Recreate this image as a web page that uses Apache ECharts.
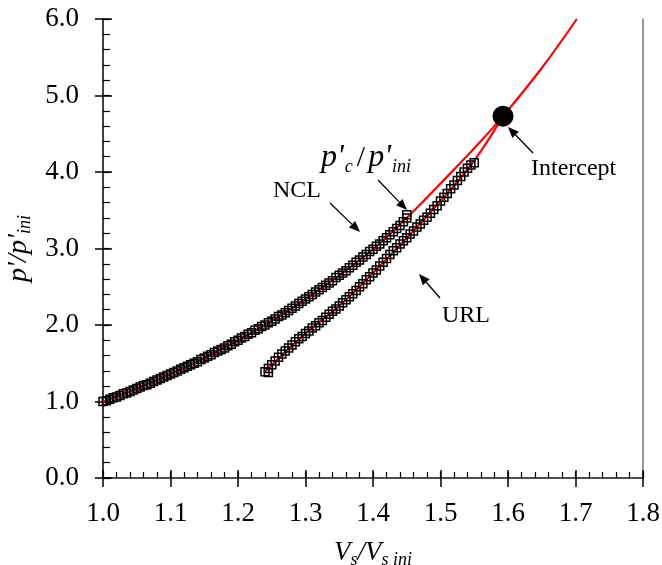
<!DOCTYPE html>
<html><head><meta charset="utf-8">
<script src="https://cdn.jsdelivr.net/npm/echarts/dist/echarts.min.js"></script>
<style>html,body{margin:0;padding:0;background:#fff}#c{width:662px;height:565px}</style>
</head><body><div id="c"></div>
<script>
// ---- data ----
const nclX = [1.000,1.005,1.010,1.015,1.020,1.025,1.030,1.035,1.040,1.045,1.050,1.055,1.060,1.065,1.070,1.075,1.080,1.085,1.090,1.095,
  1.100,1.105,1.110,1.115,1.120,1.125,1.130,1.135,1.140,1.145,1.150,1.155,1.160,1.165,1.170,1.175,1.180,1.185,1.190,1.195,
  1.200,1.205,1.210,1.215,1.220,1.225,1.230,1.235,1.240,1.245,1.250,1.255,1.260,1.265,1.270,1.275,1.280,1.285,1.290,1.295,
  1.300,1.305,1.310,1.315,1.320,1.325,1.330,1.335,1.340,1.345,1.350,1.355,1.360,1.365,1.370,1.375,1.380,1.385,1.390,1.395,
  1.400,1.405,1.410,1.415,1.420,1.425,1.430,1.435,1.440,1.445,1.450,1.450];
const nclY = [1.00,1.01,1.03,1.05,1.06,1.08,1.10,1.11,1.13,1.15,1.17,1.19,1.21,1.22,1.24,1.26,1.28,1.30,1.32,1.34,
  1.36,1.38,1.40,1.42,1.44,1.46,1.48,1.50,1.52,1.55,1.57,1.59,1.61,1.64,1.66,1.68,1.70,1.73,1.75,1.78,
  1.80,1.83,1.85,1.88,1.90,1.93,1.95,1.98,2.00,2.03,2.05,2.08,2.11,2.13,2.16,2.19,2.22,2.25,2.28,2.31,
  2.34,2.37,2.40,2.43,2.46,2.49,2.52,2.55,2.58,2.62,2.65,2.68,2.71,2.75,2.78,2.82,2.85,2.89,2.92,2.96,
  2.99,3.03,3.06,3.10,3.14,3.18,3.22,3.26,3.30,3.35,3.40,3.44];
const urlX = [1.240,1.245,1.245,1.250,1.255,1.260,1.265,1.270,1.275,1.280,1.285,1.290,1.295,1.300,1.305,1.310,1.315,1.320,1.325,1.330,
  1.335,1.340,1.345,1.350,1.355,1.360,1.365,1.370,1.375,1.380,1.385,1.390,1.395,1.400,1.405,1.410,1.415,1.420,1.425,1.430,
  1.435,1.440,1.445,1.450,1.455,1.460,1.465,1.470,1.475,1.480,1.485,1.490,1.495,1.500,1.505,1.510,1.515,1.520,1.525,1.530,
  1.535,1.540,1.545,1.550];
const urlY = [1.39,1.38,1.43,1.48,1.53,1.58,1.62,1.66,1.70,1.74,1.78,1.82,1.85,1.89,1.92,1.96,1.99,2.03,2.06,2.10,
  2.14,2.18,2.21,2.25,2.29,2.33,2.37,2.41,2.45,2.50,2.54,2.59,2.63,2.68,2.72,2.77,2.82,2.87,2.92,2.97,
  3.01,3.06,3.10,3.14,3.19,3.23,3.28,3.32,3.37,3.41,3.46,3.51,3.56,3.62,3.67,3.72,3.78,3.83,3.89,3.94,
  4.00,4.05,4.09,4.12];
const nclFitX = [1.00,1.05,1.10,1.15,1.20,1.25,1.30,1.35,1.40,1.45,1.50,1.55,1.5926,1.65,1.702];
const nclFitY = [1.00,1.17,1.36,1.57,1.80,2.05,2.34,2.65,2.99,3.40,3.85,4.31,4.73,5.36,6.00];
const urlFitX = [1.24,1.30,1.35,1.40,1.45,1.50,1.55,1.5926];
const urlFitY = [1.39,1.89,2.25,2.68,3.14,3.62,4.15,4.73];
const interceptX = [1.5926];
const interceptY = [4.73];
const xTicks = {min:1.0, max:1.8, step:0.1, minorStep:0.02};
const yTicks = {min:0.0, max:6.0, step:1.0, minorStep:0.2};

const zip = (a,b)=>a.map((v,i)=>[v,b[i]]);
const FONT = 'Liberation Serif';

const chart = echarts.init(document.getElementById('c'), null, {renderer:'canvas'});

function arrow(x1,y1,x2,y2){
  const dx=x2-x1, dy=y2-y1, L=Math.hypot(dx,dy), ux=dx/L, uy=dy/L;
  const hl=11, hw=4.5;
  const bx=x2-ux*hl, by=y2-uy*hl;
  return [
    {type:'line', shape:{x1:x1,y1:y1,x2:bx,y2:by}, style:{stroke:'#000', lineWidth:1.3}, z:100},
    {type:'polygon', shape:{points:[[x2,y2],[bx-uy*hw,by+ux*hw],[bx+uy*hw,by-ux*hw]]}, style:{fill:'#000'}, z:100}
  ];
}

const bx = {type:'value', min:xTicks.min, max:xTicks.max, interval:xTicks.step, gridIndex:0, splitLine:{show:false}};
const by = {type:'value', min:yTicks.min, max:yTicks.max, interval:yTicks.step, gridIndex:0, splitLine:{show:false}};
const labelStyle = {fontFamily:FONT, fontSize:27, color:'#000'};
const ax = (base, extra) => Object.assign({}, base, extra);

const option = {
  animation:false,
  backgroundColor:'#fff',
  grid:{left:103, right:19, top:19, bottom:87, containLabel:false, outerBoundsMode:'none'},
  xAxis:[
    ax(bx, {
      position:'bottom',
      axisLine:{show:true, lineStyle:{color:'#000', width:1.5}},
      axisTick:{show:true, inside:true, length:8, lineStyle:{color:'#000', width:1.5}},
      axisLabel:Object.assign({margin:22, formatter:v=>v.toFixed(1)}, labelStyle),
      name:'{i|V}{s|s}{i|/V}{s|s ini}', nameLocation:'middle', nameGap:59,
      nameTextStyle:{rich:{
        i:{fontFamily:FONT, fontSize:27, fontStyle:'italic', color:'#000', lineHeight:32, verticalAlign:'middle'},
        s:{fontFamily:FONT, fontSize:18, fontStyle:'italic', color:'#000', lineHeight:32, verticalAlign:'bottom'}
      }}
    }),
    ax(bx, {position:'bottom', axisLine:{show:false},
      axisTick:{show:true, inside:false, length:9, lineStyle:{color:'#000', width:1.5}}, axisLabel:{show:false}}),
    ax(bx, {position:'bottom', interval:xTicks.minorStep, axisLine:{show:false},
      axisTick:{show:true, inside:true, length:6, lineStyle:{color:'#000', width:1.2}}, axisLabel:{show:false}}),
    ax(bx, {position:'top', axisLine:{show:true, lineStyle:{color:'#555', width:1.5}},
      axisTick:{show:false}, axisLabel:{show:false}})
  ],
  yAxis:[
    ax(by, {
      position:'left',
      axisLine:{show:true, lineStyle:{color:'#000', width:1.5}},
      axisTick:{show:true, inside:true, length:9, lineStyle:{color:'#000', width:1.5}},
      axisLabel:Object.assign({margin:24, formatter:v=>v.toFixed(1)}, labelStyle),
      name:"{i|p'/p'}{s|ini}", nameLocation:'middle', nameGap:66, nameRotate:90,
      nameTextStyle:{rich:{
        i:{fontFamily:FONT, fontSize:28, fontStyle:'italic', color:'#000', lineHeight:32, verticalAlign:'middle'},
        s:{fontFamily:FONT, fontSize:18, fontStyle:'italic', color:'#000', lineHeight:32, verticalAlign:'bottom'}
      }}
    }),
    ax(by, {position:'left', axisLine:{show:false},
      axisTick:{show:true, inside:false, length:8, lineStyle:{color:'#000', width:1.5}}, axisLabel:{show:false}}),
    ax(by, {position:'left', interval:yTicks.minorStep, axisLine:{show:false},
      axisTick:{show:true, inside:true, length:7, lineStyle:{color:'#000', width:1.2}}, axisLabel:{show:false}}),
    ax(by, {position:'right', axisLine:{show:true, lineStyle:{color:'#777', width:1.5}},
      axisTick:{show:false}, axisLabel:{show:false}})
  ],
  series:[
    {type:'line', name:'NCL fit', data:zip(nclFitX,nclFitY), smooth:0.4, showSymbol:false, symbol:'none',
     lineStyle:{color:'#ff0000', width:2.2}, z:2},
    {type:'line', name:'URL fit', data:zip(urlFitX,urlFitY), smooth:0.4, showSymbol:false, symbol:'none',
     lineStyle:{color:'#ff0000', width:2.2}, z:2},
    {type:'scatter', name:'NCL', data:zip(nclX,nclY), symbol:'rect', symbolSize:8,
     itemStyle:{color:'rgba(0,0,0,0)', borderColor:'#000', borderWidth:1.5, opacity:1}, z:3},
    {type:'scatter', name:'URL', data:zip(urlX,urlY), symbol:'rect', symbolSize:8,
     itemStyle:{color:'rgba(0,0,0,0)', borderColor:'#000', borderWidth:1.5, opacity:1}, z:3},
    {type:'scatter', name:'Intercept', data:zip(interceptX,interceptY), symbol:'circle', symbolSize:21,
     itemStyle:{color:'#000', opacity:1}, z:5}
  ],
  graphic:[
    {type:'text', left:273, top:179, style:{text:'NCL', font:'24px "Liberation Serif"', fill:'#000'}, z:100},
    {type:'text', left:442, top:304, style:{text:'URL', font:'24px "Liberation Serif"', fill:'#000'}, z:100},
    {type:'text', left:531, top:157, style:{text:'Intercept', font:'24px "Liberation Serif"', fill:'#000'}, z:100},
    {type:'text', left:321, top:142, style:{
      text:"{i|p'}{s|c}{n|/}{i|p'}{s|ini}",
      rich:{
        i:{fontFamily:FONT, fontSize:32, fontStyle:'italic', fill:'#000', lineHeight:36, verticalAlign:'middle'},
        s:{fontFamily:FONT, fontSize:18, fontStyle:'italic', fill:'#000', lineHeight:36, verticalAlign:'bottom', padding:[0,4,0,1]},
        n:{fontFamily:FONT, fontSize:30, fill:'#000', lineHeight:36, verticalAlign:'middle', padding:[0,3,0,0]}
      }}, z:100},
  ].concat(arrow(330,203,360,232), arrow(378,180,407,210), arrow(533,153,508,127), arrow(440,298,419,274))
};
chart.setOption(option);
</script>
</body></html>
